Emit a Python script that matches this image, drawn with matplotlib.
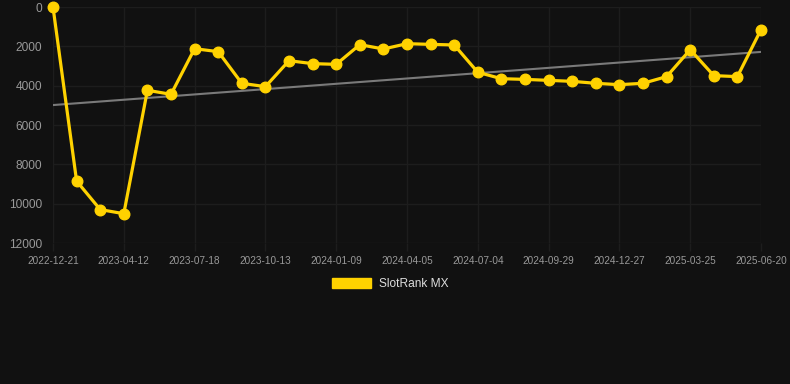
import numpy as np
import matplotlib.pyplot as plt
from matplotlib.patches import Patch

# rank values, one point per sample (smaller = better, axis is reversed)
rank = [0, 8850, 10300, 10510, 4235, 4440, 2120, 2270, 3880, 4050,
        2730, 2880, 2915, 1915, 2135, 1865, 1900, 1930, 3320, 3645,
        3680, 3730, 3780, 3880, 3950, 3880, 3540, 2170, 3490, 3540, 1150]
tick_labels = ['2022-12-21', '2023-04-12', '2023-07-18', '2023-10-13', '2024-01-09',
               '2024-04-05', '2024-07-04', '2024-09-29', '2024-12-27', '2025-03-25',
               '2025-06-20']
series_name = 'SlotRank MX'

bg = '#111111'
grid_col = '#1d1d1d'
gold = '#FFD200'

plt.rcParams['font.family'] = ['Liberation Sans', 'DejaVu Sans']

x = np.arange(len(rank))
slope, icpt = np.polyfit(x, rank, 1)
trend = slope * x + icpt

fig = plt.figure(figsize=(7.9, 3.84), dpi=100, facecolor=bg)
ax = fig.add_axes([53/790, 1 - 243/384, (761 - 53)/790, (243 - 7)/384])
ax.set_facecolor(bg)

ax.plot(x, trend, color='#7a7a7a', lw=1.5, zorder=2)
ax.plot(x, rank, color=gold, lw=2.3, marker='o', ms=7.6, zorder=3, clip_on=False)

ax.set_xlim(0, len(rank) - 1)
ax.set_ylim(12000, 0)
ax.set_yticks(np.arange(0, 12001, 2000))
ax.set_xticks(x[::3])
ax.set_xticklabels(tick_labels)

ax.grid(True, color=grid_col, lw=1)
ax.set_axisbelow(True)
for s in ax.spines.values():
    s.set_visible(False)
ax.tick_params(axis='y', colors='#999999', labelsize=8.6, length=0, pad=8)
ax.tick_params(axis='x', colors=grid_col, labelcolor='#999999', labelsize=7.2,
               length=6, width=1, pad=3)

fig.legend(handles=[Patch(facecolor=gold, edgecolor=gold, label=series_name)],
           loc='center', bbox_to_anchor=(390/790, 1 - 284/384), frameon=False,
           fontsize=8.6, labelcolor='#dddddd', handlelength=3.3, handleheight=1.0,
           handletextpad=0.6)

fig.savefig('out.png', dpi=100, facecolor=bg)
